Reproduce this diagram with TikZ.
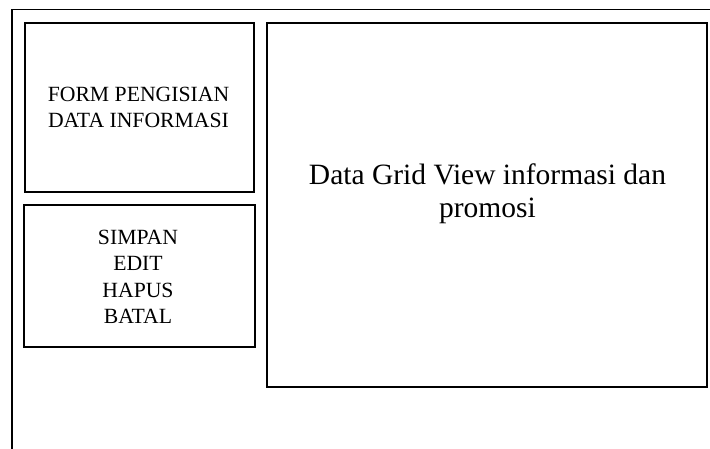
\documentclass[tikz,border=0pt]{standalone}
\usepackage{fontspec}
\setmainfont{Liberation Serif}
\begin{document}
\begin{tikzpicture}[x=1pt,y=-1pt,
  panel/.style={draw=black,line width=1.1pt,rectangle,inner sep=0pt},
  lbl/.style={align=center,inner sep=0pt,font=\fontsize{21.7}{25.5}\selectfont},
  biglbl/.style={align=center,inner sep=0pt,font=\fontsize{29.5}{33}\selectfont}]
\useasboundingbox (0,0) rectangle (710,449);
% outer frame (top and left edges)
\coordinate (otl) at (12,9.5);
\coordinate (otr) at (710,9.5);
\coordinate (obl) at (12,449);
\draw[line width=1.1pt] (otr) -- (otl) -- (obl);
% form panel
\node[panel,minimum width=229pt,minimum height=169pt] (form) at (139.5,107.5) {};
\node[lbl] (formtxt) at (138.5,107.5) {FORM PENGISIAN\\DATA INFORMASI};
% button panel
\node[panel,minimum width=231pt,minimum height=142pt] (btn) at (139.5,276) {};
\node[lbl,font=\fontsize{21.7}{26.5}\selectfont] (btntxt) at (138,277) {SIMPAN\\EDIT\\HAPUS\\BATAL};
% grid panel
\node[panel,minimum width=440pt,minimum height=364pt] (grid) at (487,205) {};
\node[biglbl] (gridtxt) at (487.5,194) {Data Grid View informasi dan\\promosi};
\end{tikzpicture}
\end{document}
